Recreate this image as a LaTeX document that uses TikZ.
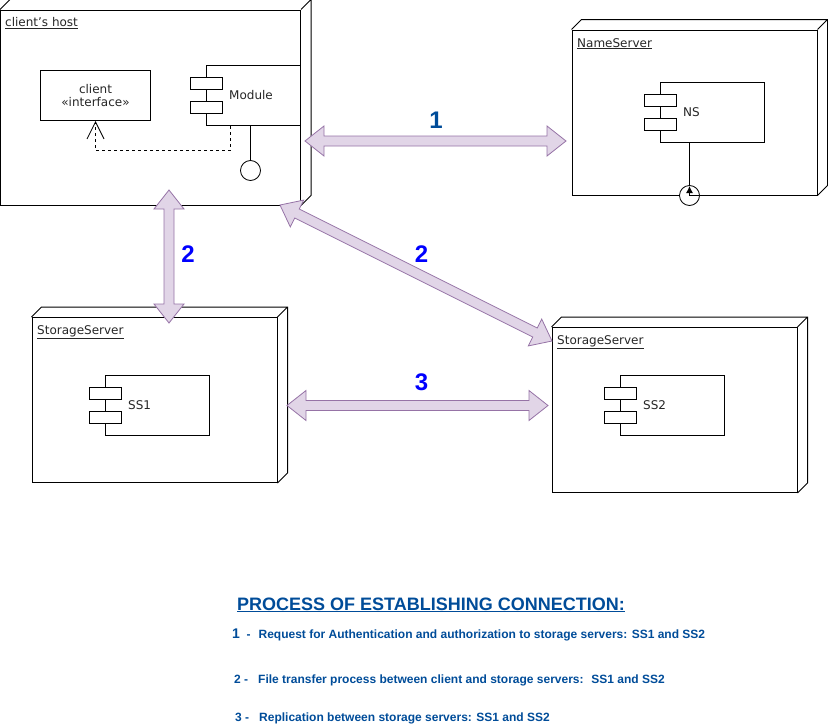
\documentclass[tikz,border=0pt]{standalone}
\usepackage{fontspec}
\usepackage{xcolor}
\setmainfont{DejaVu Sans}
\newfontfamily\notefont{Liberation Sans}
\usepackage{tikz}
\usetikzlibrary{arrows.meta,positioning,calc}
\definecolor{flexfill}{HTML}{E1D5E7}
\definecolor{flexline}{HTML}{9673A6}
\definecolor{notecol}{HTML}{004C99}
\definecolor{numcol}{HTML}{0000FF}
\begin{document}
\begin{tikzpicture}[x=1pt,y=-1pt,>=Latex,
  hostbox/.style={draw,inner sep=0pt,line width=1pt},
  partbox/.style={draw,inner sep=0pt,line width=1pt,fill=white},
  tabbox/.style={draw,inner sep=0pt,line width=1pt,fill=white,minimum width=32pt,minimum height=12pt},
  knob/.style={draw,circle,inner sep=0pt,minimum size=20pt,fill=white,line width=.8pt},
  title label/.style={anchor=base west,inner sep=0pt,font=\fontsize{12}{13}\selectfont,text=black!85},
  part label/.style={anchor=west,inner sep=0pt,font=\fontsize{12}{13}\selectfont,text=black!85},
  flex num/.style={font=\fontsize{24}{26}\selectfont\notefont\bfseries,text=numcol,inner sep=0pt},
  note/.style={anchor=base west,inner sep=0pt,font=\fontsize{12}{14}\selectfont\notefont\bfseries,text=notecol},
  flex/.style={draw=flexline,fill=flexfill,line width=.8pt,line join=miter,
    to path={
      -- ($(\tikztostart)!19pt!(\tikztotarget)!15pt!90:(\tikztotarget)$)
      -- ($(\tikztostart)!19pt!(\tikztotarget)!5pt!90:(\tikztotarget)$)
      -- ($(\tikztotarget)!19pt!(\tikztostart)!5pt!-90:(\tikztostart)$)
      -- ($(\tikztotarget)!19pt!(\tikztostart)!15pt!-90:(\tikztostart)$)
      -- (\tikztotarget)
      -- ($(\tikztotarget)!19pt!(\tikztostart)!15pt!90:(\tikztostart)$)
      -- ($(\tikztotarget)!19pt!(\tikztostart)!5pt!90:(\tikztostart)$)
      -- ($(\tikztostart)!19pt!(\tikztotarget)!5pt!-90:(\tikztotarget)$)
      -- ($(\tikztostart)!19pt!(\tikztotarget)!15pt!-90:(\tikztotarget)$)
      -- cycle}}]
  \useasboundingbox (0,0) rectangle (828,728);

  % deployment boxes
  \node[hostbox,minimum width=300pt,minimum height=195pt] (host) at (150.5,107.5) {};
  \node[hostbox,minimum width=245pt,minimum height=165pt] (nameserver) at (694.5,112.5) {};
  \node[hostbox,minimum width=245pt,minimum height=165pt] (storageA) at (154.5,400) {};
  \node[hostbox,minimum width=245pt,minimum height=165pt] (storageB) at (674.5,410) {};
  \foreach \n in {host,nameserver,storageA,storageB}
    \draw[line width=1pt] (\n.north west) -- ++(10,-10) -| ($(\n.south east)+(10,-10)$) -- (\n.south east)
      (\n.north east) -- ++(10,-10);

  \node[title label] (hosttitle) at (5,27) {\underline{client's host}};
  \node[title label] (nametitle) at (577,47) {\underline{NameServer}};
  \node[title label] (storageAtitle) at (37,334) {\underline{StorageServer}};
  \node[title label] (storageBtitle) at (557,344) {\underline{StorageServer}};

  % components
  \node[partbox,minimum width=110pt,minimum height=50pt,align=center,
    font=\fontsize{12}{13.5}\selectfont,text=black!85] (client) at (95.5,95.5) {client\\«interface»};
  \node[partbox,minimum width=94pt,minimum height=60pt] (module) at (253.5,95.5) {};
  \node[partbox,minimum width=104pt,minimum height=60pt] (ns) at (712.5,112.5) {};
  \node[partbox,minimum width=104pt,minimum height=60pt] (ssone) at (157.5,405.5) {};
  \node[partbox,minimum width=104pt,minimum height=60pt] (sstwo) at (672.5,405.5) {};
  \foreach \b/\t in {module/Module,ns/NS,ssone/SS1,sstwo/SS2} {
    \node[tabbox] (\b-a) at ($(\b.west)+(0,-12)$) {};
    \node[tabbox] (\b-b) at ($(\b.west)+(0,12)$) {};
    \node[part label] (\b-text) at ($(\b.west)+(23,0)$) {\t};
  }

  % sockets and dependency
  \node[knob] (plug) at (250.5,170.5) {};
  \draw[line width=1pt] (plug.north |- module.south) -- (plug);
  \coordinate (dashstart) at ($(module.south west)+(24,0)$);
  \draw[dashed,line width=.8pt,-{Straight Barb[length=17pt,width=17pt,line width=.8pt]}]
    (dashstart) |- (95.5,150.5) -- (client.south);

  \node[knob] (socket) at (689.5,195.5) {};
  \coordinate (socketmid) at (689.5,195.5);
  \coordinate (sockettip) at (689.5,186);
  \draw[line width=1pt] (socket.north |- ns.south) -- (sockettip);
  \draw[line width=1pt,-{Latex[length=7pt,width=7pt]}] (socketmid) -- (sockettip);
  \draw[line width=1pt] (socketmid) -- (socket.east);

  % flex arrows
  \coordinate (tipa) at (305,141);
  \coordinate (tipb) at (566,141);
  \coordinate (tipc) at (169,190);
  \coordinate (tipd) at (169,323);
  \coordinate (tipe) at (280,205);
  \coordinate (tipf) at (552,341);
  \coordinate (tipg) at (287,405.5);
  \coordinate (tiph) at (548,405.5);
  \path[flex] (tipa) to (tipb);
  \path[flex] (tipc) to (tipd);
  \path[flex] (tipe) to (tipf);
  \path[flex] (tipg) to (tiph);

  \node[flex num,text=notecol] (numone) at (436,120) {1};
  \node[flex num] (numtwoa) at (188,254) {2};
  \node[flex num] (numtwob) at (421.5,254) {2};
  \node[flex num] (numthree) at (421.5,382) {3};

  % legend
  \node[note,font=\fontsize{18}{20}\selectfont\notefont\bfseries] (legend) at (237,610) {\underline{PROCESS OF ESTABLISHING CONNECTION:}};
  \node[note] (noteone) at (232,638) {{\fontsize{14}{14}\selectfont 1}~ -\hspace{8pt}Request for Authentication and authorization to storage servers: SS1 and SS2};
  \node[note] (notetwo) at (234,683) {2 -~~ File transfer process between client and storage servers:~ SS1 and SS2};
  \node[note] (notethree) at (235,721) {3 -~~ Replication between storage servers: SS1 and SS2};
\end{tikzpicture}
\end{document}
